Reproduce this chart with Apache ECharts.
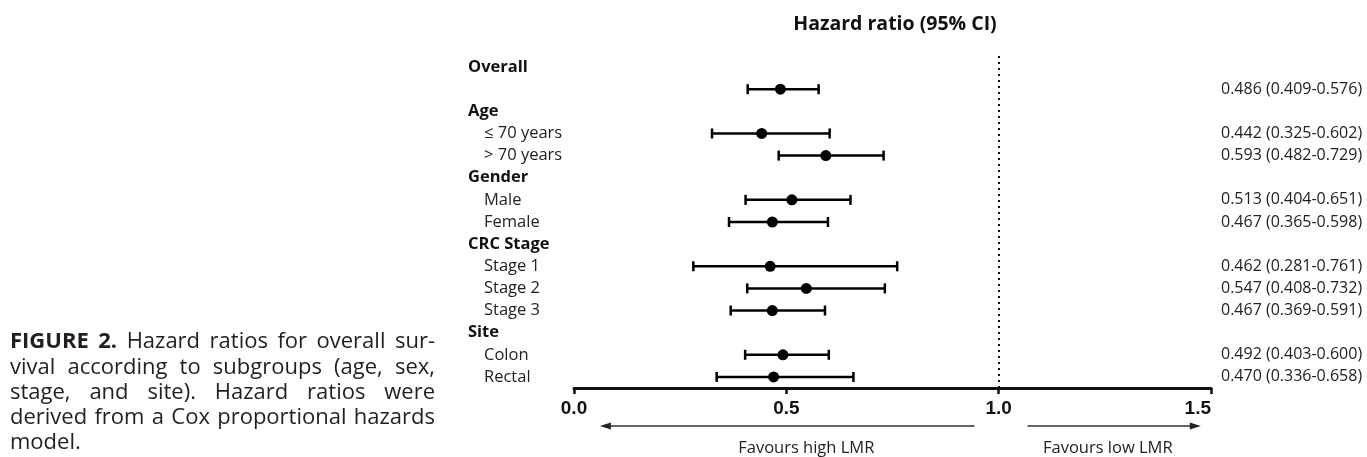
<!DOCTYPE html>
<html>
<head>
<meta charset="utf-8">
<script src="https://cdn.jsdelivr.net/npm/echarts@6/dist/echarts.min.js"></script>
<style>
  html, body { margin: 0; padding: 0; background: #fff; }
  #chart { width: 1367px; height: 457px; }
</style>
</head>
<body>
<div id="chart"></div>
<script>
// rows of the forest plot, top to bottom ("" = the Overall estimate row)
const rowLabels = ["Overall", "", "Age", "≤ 70 years", "> 70 years", "Gender", "Male", "Female",
  "CRC Stage", "Stage 1", "Stage 2", "Stage 3", "Site", "Colon", "Rectal"];
const headerRows = ["Overall", "Age", "Gender", "CRC Stage", "Site"];
const hr    = [null, 0.486, null, 0.442, 0.593, null, 0.513, 0.467, null, 0.462, 0.547, 0.467, null, 0.492, 0.470];
const lower = [null, 0.409, null, 0.325, 0.482, null, 0.404, 0.365, null, 0.281, 0.408, 0.369, null, 0.403, 0.336];
const upper = [null, 0.576, null, 0.602, 0.729, null, 0.651, 0.598, null, 0.761, 0.732, 0.591, null, 0.600, 0.658];
const xTicks = [0, 0.5, 1.0, 1.5];
const captionLines = [
  "FIGURE 2. Hazard ratios for overall sur-",
  "vival according to subgroups (age, sex,",
  "stage, and site). Hazard ratios were",
  "derived from a Cox proportional hazards",
  "model."
];

const chart = echarts.init(document.getElementById("chart"));

const points = [];
hr.forEach((v, i) => {
  if (v != null) points.push([lower[i], upper[i], v, i]);
});

function ciText(i) {
  if (hr[i] == null) return "";
  return hr[i].toFixed(3) + " (" + lower[i].toFixed(3) + "-" + upper[i].toFixed(3) + ")";
}

const option = {
  animation: false,
  title: {
    text: "Hazard ratio (95% CI)",
    left: 890,
    top: 9,
    textAlign: "center",
    textStyle: { fontFamily: "Open Sans", fontWeight: "bold", fontSize: 19.5, color: "#111" }
  },
  grid: { left: 574, right: 156, top: 56, bottom: 69 },
  xAxis: {
    type: "value",
    min: xTicks[0],
    max: xTicks[xTicks.length - 1],
    interval: 0.5,
    splitLine: { show: false },
    axisLine: { show: true, lineStyle: { color: "#111", width: 3 } },
    axisTick: { show: true, length: 6, lineStyle: { color: "#111", width: 2.5 } },
    axisLabel: {
      margin: 11,
      alignMaxLabel: "right",
      fontFamily: "Liberation Sans",
      fontWeight: "bold",
      fontSize: 19,
      color: "#111",
      formatter: v => v.toFixed(1)
    }
  },
  yAxis: [
    {
      type: "category",
      inverse: true,
      data: rowLabels,
      axisLine: { show: false },
      axisTick: { show: false },
      axisLabel: {
        align: "left",
        margin: 106,
        interval: 0,
        formatter: v => headerRows.includes(v) ? "{h|" + v + "}" : "{s|" + v + "}",
        rich: {
          h: { fontFamily: "Open Sans", fontWeight: "bold", fontSize: 16.5, color: "#111" },
          s: { fontFamily: "Open Sans", fontSize: 16.5, color: "#222", padding: [0, 0, 0, 16] }
        }
      }
    },
    {
      type: "category",
      inverse: true,
      position: "right",
      data: rowLabels,
      axisLine: { show: false },
      axisTick: { show: false },
      axisLabel: {
        align: "left",
        margin: 10,
        interval: 0,
        fontFamily: "Open Sans",
        fontSize: 16,
        color: "#222",
        formatter: (v, i) => ciText(i)
      }
    }
  ],
  series: [
    {
      type: "custom",
      yAxisIndex: 0,
      data: points,
      renderItem: (params, api) => {
        const row = api.value(3);
        const a = api.coord([api.value(0), row]);
        const b = api.coord([api.value(1), row]);
        const c = api.coord([api.value(2), row]);
        const st = { stroke: "#000", lineWidth: 2.5 };
        return {
          type: "group",
          children: [
            { type: "line", shape: { x1: a[0], y1: a[1], x2: b[0], y2: b[1] }, style: st },
            { type: "line", shape: { x1: a[0], y1: a[1] - 5, x2: a[0], y2: a[1] + 5 }, style: st },
            { type: "line", shape: { x1: b[0], y1: b[1] - 5, x2: b[0], y2: b[1] + 5 }, style: st },
            { type: "circle", shape: { cx: c[0], cy: c[1], r: 5.5 }, style: { fill: "#000" } }
          ]
        };
      },
      markLine: {
        silent: true,
        symbol: "none",
        label: { show: false },
        lineStyle: { color: "#111", width: 2, type: [2, 4] },
        data: [{ xAxis: 1 }]
      }
    }
  ]
};

chart.setOption(option);

// annotations: arrows, favour labels, caption
const ctx = document.createElement("canvas").getContext("2d");
const capFont = '22px "Open Sans"';
const capFontBold = 'bold 22px "Open Sans"';
const px = v => chart.convertToPixel({ xAxisIndex: 0 }, v);
const arrowY = 426;
const graphics = [];

function arrow(fromV, toV) {
  const x1 = px(fromV), x2 = px(toV);
  const dir = x2 > x1 ? 1 : -1;
  graphics.push({
    type: "line",
    shape: { x1: x1, y1: arrowY, x2: x2 - dir * 8, y2: arrowY },
    style: { stroke: "#333", lineWidth: 1.3 }
  });
  graphics.push({
    type: "polygon",
    shape: { points: [[x2, arrowY], [x2 - dir * 11, arrowY - 3.5], [x2 - dir * 11, arrowY + 3.5]] },
    style: { fill: "#222" }
  });
}
arrow(0.943, 0.061);
arrow(1.068, 1.476);

[["Favours high LMR", 0.547], ["Favours low LMR", 1.257]].forEach(([t, v]) => {
  graphics.push({
    type: "text",
    x: px(v),
    y: 448,
    style: { text: t, font: '16.5px "Open Sans"', fill: "#222", align: "center", verticalAlign: "middle" }
  });
});

// justified caption
const capLeft = 10, capRight = 435;
const capY = [342, 367.5, 393, 418, 443];
captionLines.forEach((line, li) => {
  const words = line.split(" ");
  const fonts = words.map((w, wi) => (li === 0 && wi < 2) ? capFontBold : capFont);
  const widths = words.map((w, wi) => { ctx.font = fonts[wi]; return ctx.measureText(w).width; });
  const total = widths.reduce((s, w) => s + w, 0);
  const justify = li < captionLines.length - 1 && words.length > 1;
  ctx.font = capFont;
  const gap = justify ? Math.max(3, (capRight - capLeft - total) / (words.length - 1)) : ctx.measureText(" ").width;
  let x = capLeft;
  words.forEach((w, wi) => {
    graphics.push({
      type: "text",
      x: x,
      y: capY[li],
      style: { text: w, font: fonts[wi], fill: "#231f20", align: "left", verticalAlign: "middle" }
    });
    x += widths[wi] + gap;
  });
});

chart.setOption({ graphic: graphics });
</script>
</body>
</html>
